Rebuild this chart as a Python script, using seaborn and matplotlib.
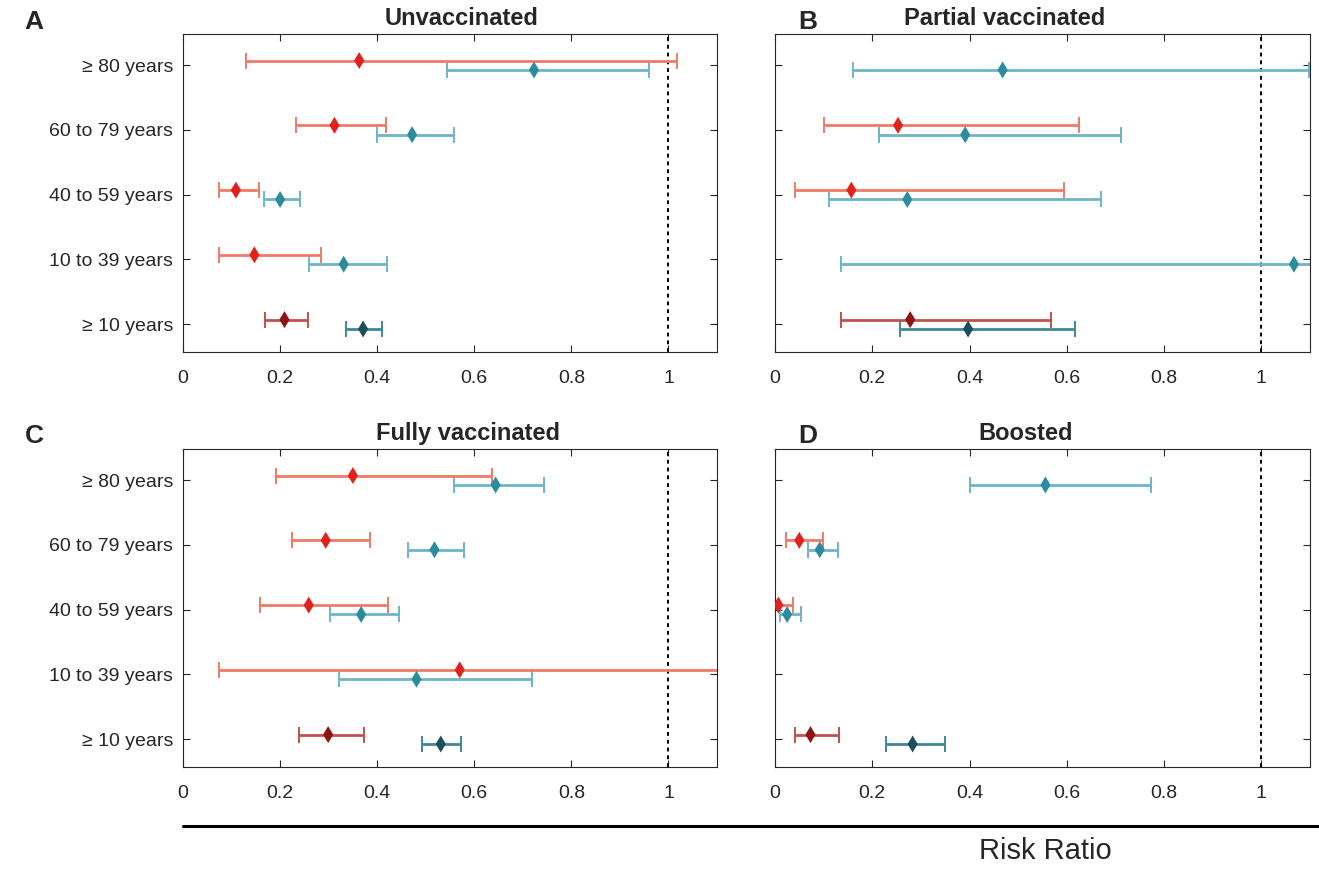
import numpy as np
import pandas as pd
import seaborn as sns
import matplotlib.pyplot as plt
from matplotlib.lines import Line2D

# rows follow age_groups, top to bottom
age_groups = ["≥ 80 years", "60 to 79 years", "40 to 59 years", "10 to 39 years", "≥ 10 years"]
panel_titles = ["Unvaccinated", "Partial vaccinated", "Fully vaccinated", "Boosted"]
panel_letters = ["A", "B", "C", "D"]
x_ticks = [0, 0.2, 0.4, 0.6, 0.8, 1]
x_tick_labels = ["0", "0.2", "0.4", "0.6", "0.8", "1"]

# A - Unvaccinated
unvacc_red_rr = [0.363, 0.312, 0.109, 0.147, 0.209]
unvacc_red_lo = [0.130, 0.233, 0.075, 0.075, 0.169]
unvacc_red_hi = [1.018, 0.419, 0.156, 0.284, 0.257]
unvacc_blue_rr = [0.723, 0.472, 0.200, 0.331, 0.371]
unvacc_blue_lo = [0.544, 0.400, 0.167, 0.260, 0.335]
unvacc_blue_hi = [0.959, 0.558, 0.240, 0.421, 0.410]

# B - Partial vaccinated
partial_red_rr = [np.nan, 0.253, 0.157, np.nan, 0.278]
partial_red_lo = [np.nan, 0.101, 0.041, np.nan, 0.136]
partial_red_hi = [np.nan, 0.626, 0.595, np.nan, 0.568]
partial_blue_rr = [0.468, 0.391, 0.272, 1.067, 0.397]
partial_blue_lo = [0.161, 0.213, 0.110, 0.135, 0.257]
partial_blue_hi = [1.098, 0.711, 0.670, 1.500, 0.617]

# C - Fully vaccinated
fully_red_rr = [0.350, 0.294, 0.259, 0.570, 0.299]
fully_red_lo = [0.192, 0.224, 0.159, 0.075, 0.239]
fully_red_hi = [0.637, 0.386, 0.423, 1.500, 0.373]
fully_blue_rr = [0.644, 0.518, 0.367, 0.481, 0.531]
fully_blue_lo = [0.559, 0.464, 0.303, 0.321, 0.492]
fully_blue_hi = [0.744, 0.578, 0.444, 0.719, 0.573]

# D - Boosted
boost_red_rr = [np.nan, 0.050, 0.007, np.nan, 0.073]
boost_red_lo = [np.nan, 0.023, 0.001, np.nan, 0.041]
boost_red_hi = [np.nan, 0.099, 0.037, np.nan, 0.131]
boost_blue_rr = [0.556, 0.092, 0.025, np.nan, 0.283]
boost_blue_lo = [0.400, 0.067, 0.011, np.nan, 0.228]
boost_blue_hi = [0.774, 0.129, 0.054, np.nan, 0.350]

panels = [
    (unvacc_red_rr, unvacc_red_lo, unvacc_red_hi, unvacc_blue_rr, unvacc_blue_lo, unvacc_blue_hi),
    (partial_red_rr, partial_red_lo, partial_red_hi, partial_blue_rr, partial_blue_lo, partial_blue_hi),
    (fully_red_rr, fully_red_lo, fully_red_hi, fully_blue_rr, fully_blue_lo, fully_blue_hi),
    (boost_red_rr, boost_red_lo, boost_red_hi, boost_blue_rr, boost_blue_lo, boost_blue_hi),
]

# marker / error-bar colours; the overall (>= 10) row is drawn darker
marker_colors = {"red": "#E3211C", "blue": "#2C8C9E", "red_all": "#8E1414", "blue_all": "#1D4F5A"}
line_colors = {"red": "#EE7A68", "blue": "#6DB6C8", "red_all": "#C2504C", "blue_all": "#3F8897"}
offsets = {"red": 0.07, "blue": -0.075}

# long table, one row per estimate
records = []
for p, vals in enumerate(panels):
    for series, (rr, lo, hi) in (("red", vals[0:3]), ("blue", vals[3:6])):
        for i, grp in enumerate(age_groups):
            tone = series + "_all" if i == len(age_groups) - 1 else series
            records.append({
                "panel": p, "group": grp, "series": series, "tone": tone,
                "rr": rr[i], "lo": lo[i], "hi": hi[i],
                "y": len(age_groups) - i + offsets[series],
            })
df = pd.DataFrame(records).dropna(subset=["rr"])

sns.set_theme(style="ticks")
plt.rcParams["font.family"] = ["Liberation Sans", "DejaVu Sans"]
plt.rcParams["axes.edgecolor"] = "#262626"
plt.rcParams["axes.linewidth"] = 0.8

W, H = 1319, 872
fig = plt.figure(figsize=(W / 100, H / 100), dpi=100)

# pixel boxes (left, right, top, bottom)
boxes = [(183, 717, 34, 352), (775, 1310, 34, 352), (183, 717, 449, 767), (775, 1310, 449, 767)]
title_x = [0.522, 0.43, 0.534, 0.469]
letter_pos = [(34, 22), (808, 22), (34, 436), (808, 436)]

for p in range(4):
    l, r, t, b = boxes[p]
    ax = fig.add_axes([l / W, 1 - b / H, (r - l) / W, (b - t) / H])
    sub = df[df["panel"] == p]

    ax.axvline(1, color="black", ls=(0, (2, 2)), lw=1.4, zorder=1)

    for tone, g in sub.groupby("tone"):
        ax.errorbar(g["rr"], g["y"], xerr=[g["rr"] - g["lo"], g["hi"] - g["rr"]],
                    fmt="none", ecolor=line_colors[tone], elinewidth=2.0,
                    capsize=6, capthick=1.4, zorder=2)

    sns.scatterplot(data=sub, x="rr", y="y", hue="tone", palette=marker_colors,
                    marker="d", s=75, linewidth=0, legend=False, zorder=3, ax=ax)

    ax.set_xlim(0, 1.1)
    ax.set_ylim(0.57, 5.48)
    ax.set_xticks(x_ticks)
    ax.set_xticklabels(x_tick_labels)
    ax.set_yticks(range(len(age_groups), 0, -1))
    if p in (0, 2):
        ax.set_yticklabels(age_groups)
    else:
        ax.set_yticklabels([])
    ax.set_xlabel("")
    ax.set_ylabel("")
    ax.tick_params(direction="in", top=True, right=True, length=5, width=0.8,
                   labelsize=14, colors="#262626")
    ax.tick_params(axis="x", pad=13)
    ax.tick_params(axis="y", pad=7)
    for sp in ax.spines.values():
        sp.set_visible(True)

    ax.text(title_x[p], 1.012, panel_titles[p], transform=ax.transAxes,
            ha="center", va="bottom", fontsize=17, fontweight="bold")
    lx, ly = letter_pos[p]
    fig.text(lx / W, 1 - ly / H, panel_letters[p], ha="center", va="center",
             fontsize=19, fontweight="bold")

fig.add_artist(Line2D([183 / W, 1.0], [1 - 826 / H, 1 - 826 / H], color="black", lw=2.2))
fig.text(1045 / W, 1 - 851 / H, "Risk Ratio", ha="center", va="center", fontsize=21)

fig.savefig("out.png", dpi=100)
